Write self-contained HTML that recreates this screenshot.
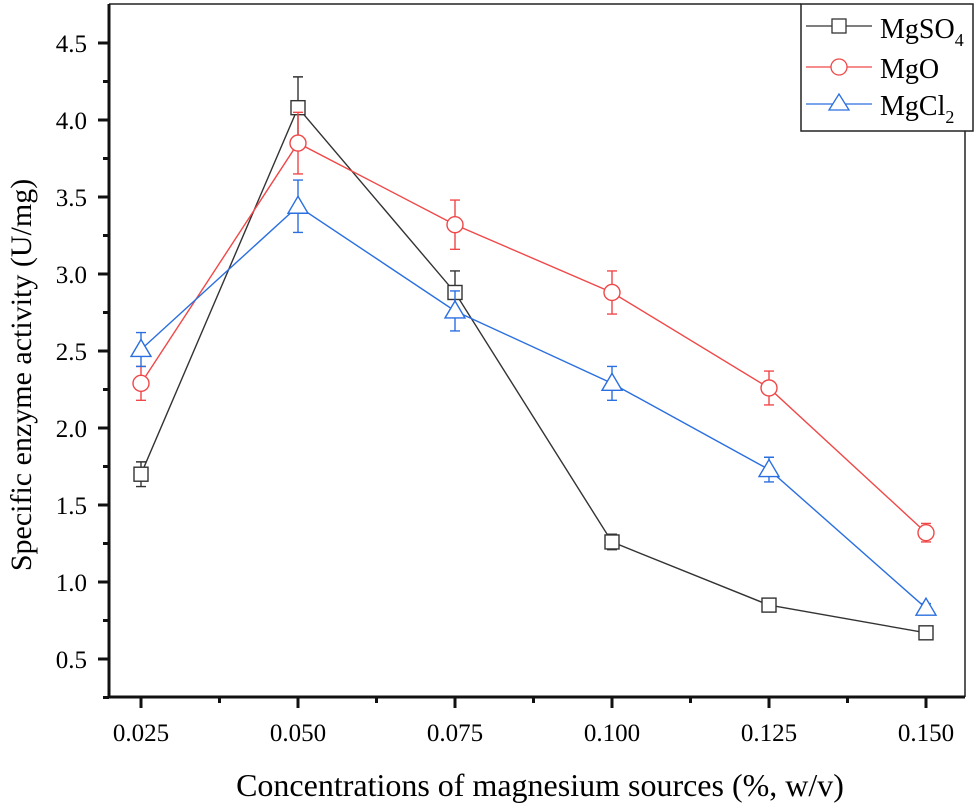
<!DOCTYPE html>
<html><head><meta charset="utf-8"><style>
body{margin:0;background:#fff}
svg{display:block;font-family:"Liberation Serif",serif}
</style></head><body>
<svg id="chart" width="975" height="810" viewBox="0 0 975 810">
<g id="axes"></g><g id="series"></g>
<g>
<rect x="801" y="4" width="172" height="127" fill="#fff" stroke="#222" stroke-width="1.5"/>
<line x1="806" y1="26" x2="872" y2="26" stroke="#333" stroke-width="1.3"/><rect x="832" y="19" width="14" height="14" fill="#fff" stroke="#333" stroke-width="1.3"/>
<text x="880" y="38" font-size="28">MgSO<tspan font-size="18" dy="8">4</tspan></text>
<line x1="806" y1="67" x2="872" y2="67" stroke="#f04848" stroke-width="1.3"/><circle cx="839" cy="67" r="8" fill="#fff" stroke="#f04848" stroke-width="1.3"/>
<text x="880" y="78" font-size="28">MgO</text>
<line x1="806" y1="104" x2="872" y2="104" stroke="#2a6fe0" stroke-width="1.3"/><path d="M839 94 L849 110 L829 110 Z" fill="#fff" stroke="#2a6fe0" stroke-width="1.3"/>
<text x="880" y="115" font-size="28">MgCl<tspan font-size="18" dy="8">2</tspan></text>
</g>
</svg>
<script>
const categories=["0.025","0.050","0.075","0.100","0.125","0.150"];
const mgso4=[1.70,4.08,2.88,1.26,0.85,0.67];
const mgso4Err=[0.08,0.20,0.14,0.05,0.03,0.03];
const mgo=[2.29,3.85,3.32,2.88,2.26,1.32];
const mgoErr=[0.11,0.20,0.16,0.14,0.11,0.06];
const mgcl2=[2.51,3.44,2.76,2.29,1.73,0.83];
const mgcl2Err=[0.11,0.17,0.13,0.11,0.08,0.03];
const yTicks=[0.5,1.0,1.5,2.0,2.5,3.0,3.5,4.0,4.5];
const NS="http://www.w3.org/2000/svg";
const X=i=>141+i*157;
const Y=v=>659-(v-0.5)*154;
function mk(t,a,p){const e=document.createElementNS(NS,t);for(const k in a)e.setAttribute(k,a[k]);p.appendChild(e);return e;}
const ax=document.getElementById('axes');
mk('line',{x1:109,y1:4,x2:801,y2:4,stroke:'#222','stroke-width':1.5},ax);
mk('line',{x1:965,y1:131,x2:965,y2:697,stroke:'#222','stroke-width':1.5},ax);
mk('line',{x1:109,y1:4,x2:109,y2:698,stroke:'#111','stroke-width':3},ax);
mk('line',{x1:108,y1:697,x2:965,y2:697,stroke:'#111','stroke-width':3},ax);
yTicks.forEach(v=>{const y=Y(v);
 mk('line',{x1:98,y1:y,x2:109,y2:y,stroke:'#111','stroke-width':3},ax);
 mk('line',{x1:103,y1:y+38.5,x2:109,y2:y+38.5,stroke:'#111','stroke-width':3},ax);
 const t=mk('text',{x:87,y:y+9,'font-size':25,'text-anchor':'end'},ax);t.textContent=v.toFixed(1);
 
 
});
categories.forEach((c,i)=>{const x=X(i);
 mk('line',{x1:x,y1:697,x2:x,y2:708,stroke:'#111','stroke-width':3},ax);
 if(i<categories.length-1)mk('line',{x1:x+78.5,y1:697,x2:x+78.5,y2:703,stroke:'#111','stroke-width':3},ax);
 const t=mk('text',{x:x,y:741,'font-size':25,'text-anchor':'middle'},ax);t.textContent=c;
 
 
});
let t=mk('text',{x:540,y:796,'font-size':32,'text-anchor':'middle'},ax);t.textContent="Concentrations of magnesium sources (%, w/v)";


t=mk('text',{x:0,y:0,'font-size':30,'text-anchor':'middle',transform:'translate(31,375) rotate(-90)'},ax);t.textContent="Specific enzyme activity (U/mg)";


const sg=document.getElementById('series');
function series(vals,errs,col,shape,name){
 const g=mk('g',{},sg);
 
 
 mk('polyline',{points:vals.map((v,i)=>X(i)+','+Y(v)).join(' '),fill:'none',stroke:col,'stroke-width':1.4},g);
 vals.forEach((v,i)=>{const x=X(i),y=Y(v),e=errs[i]*154;
  mk('path',{d:`M${x} ${y-e}V${y+e}M${x-5} ${y-e}H${x+5}M${x-5} ${y+e}H${x+5}`,stroke:col,'stroke-width':1.4,fill:'none'},g);
  let m;
  if(shape==='sq')m=mk('rect',{x:x-7,y:y-7,width:14,height:14,fill:'#fff',stroke:col,'stroke-width':1.4},g);
  else if(shape==='c')m=mk('circle',{cx:x,cy:y,r:8,fill:'#fff',stroke:col,'stroke-width':1.4},g);
  else m=mk('path',{d:`M${x} ${y-10}L${x+10} ${y+7}L${x-10} ${y+7}Z`,fill:'#fff',stroke:col,'stroke-width':1.4},g);
  
  
 });
}
series(mgso4,mgso4Err,'#333','sq','series-mgso4');
series(mgo,mgoErr,'#f04848','c','series-mgo');
series(mgcl2,mgcl2Err,'#2a6fe0','t','series-mgcl2');
</script>
</body></html>
